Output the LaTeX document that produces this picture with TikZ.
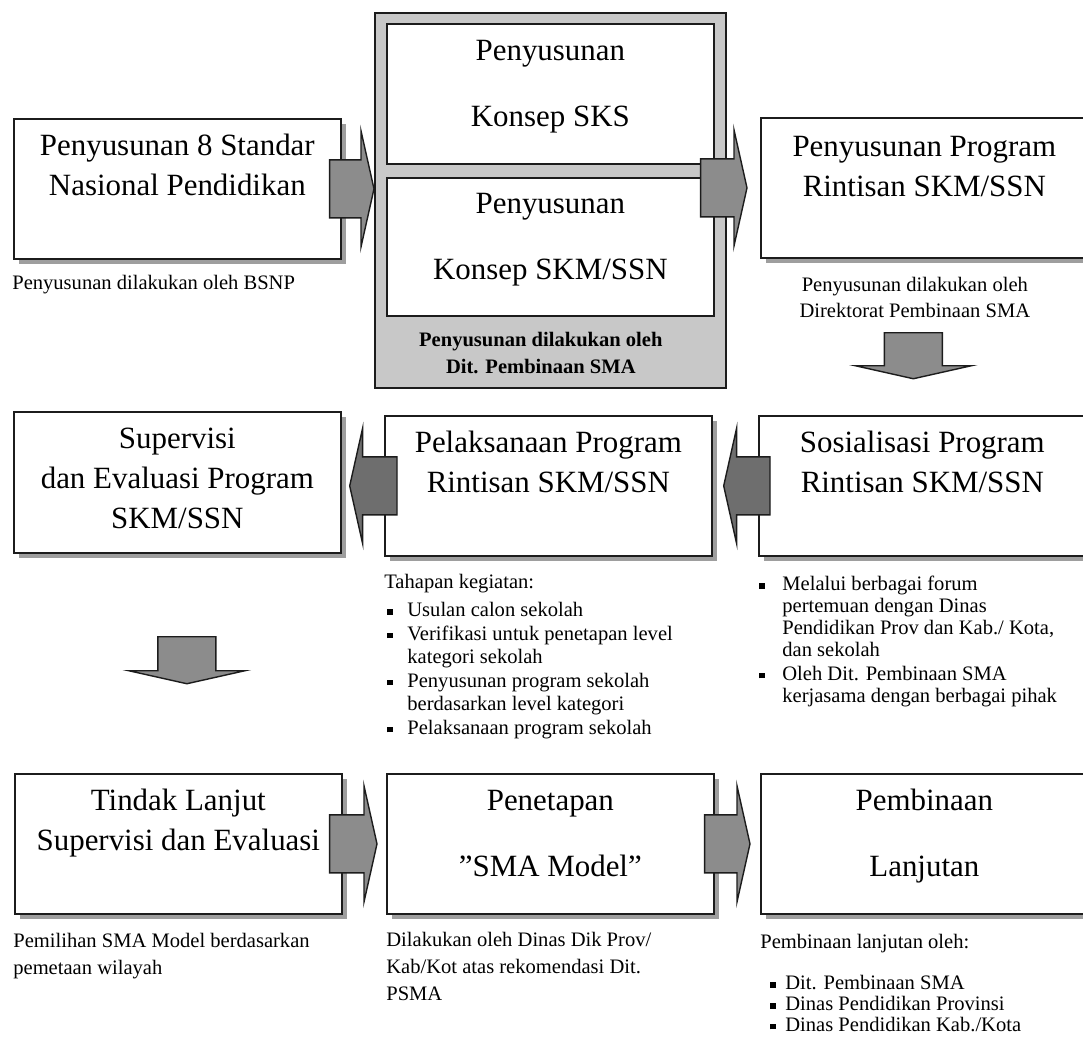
\documentclass[tikz,border=0pt]{standalone}
\usepackage{fontspec}
\setmainfont{Liberation Serif}
\usetikzlibrary{shadows, calc, positioning}
\definecolor{grpfill}{HTML}{C8C8C8}
\definecolor{shd}{HTML}{9E9E9E}
\definecolor{arrlite}{HTML}{8C8C8C}
\definecolor{arrdark}{HTML}{6E6E6E}
\definecolor{edge}{HTML}{1C1C1C}
\tikzset{
  % riquadro di una fase
  box/.style={draw=edge, line width=1pt, fill=white, anchor=north west,
    minimum width=6.54cm, minimum height=2.8cm, inner sep=0pt},
  boxsh/.style={box, drop shadow={shadow xshift=0.1cm, shadow yshift=-0.1cm,
    fill=shd, opacity=1}},
  % gruppo grigio dei concetti
  grp/.style={draw=edge, line width=1pt, fill=grpfill, anchor=north west,
    minimum width=7.02cm, minimum height=7.5cm, inner sep=0pt},
  % titolo dentro il riquadro
  ttl/.style={font=\fontsize{17.6pt}{23pt}\selectfont, inner sep=0pt, anchor=base},
  % note sotto i riquadri
  note/.style={font=\fontsize{11.7pt}{13.8pt}\selectfont, inner sep=0pt, anchor=base west},
  % freccia a blocco
  barrow/.style={draw=edge, line width=0.8pt, fill=arrlite},
}
\newcommand{\blockarrow}[3][arrlite]{%
  \coordinate (ba) at (#2);
  \coordinate (bt) at (#3);
  \coordinate (bh) at ($(bt)!0.26cm!(ba)$);
  \draw[barrow, fill=#1] ($(ba)!0.58cm!90:(bt)$) -- ($(bh)!0.58cm!90:(bt)$)
    -- ($(bh)!1.16cm!90:(bt)$) -- (bt) -- ($(bh)!1.16cm!-90:(bt)$)
    -- ($(bh)!0.58cm!-90:(bt)$) -- ($(ba)!0.58cm!-90:(bt)$) -- cycle;
}
\newcommand{\lns}[1]{\begin{tabular}[t]{@{}c@{}}#1\end{tabular}}
\newcommand{\lnsl}[1]{\begin{tabular}[t]{@{}l@{}}#1\end{tabular}}
\newcommand{\bul}{\rule[0.1em]{0.27em}{0.27em}}

\begin{document}
\begin{tikzpicture}[x=0.02cm, y=-0.02cm]
  \useasboundingbox (0,0) rectangle (1083,1046);
  \clip (0,0) rectangle (1083,1046);
  \node[grp] (grp) at (374,12) {};
  \node[box] (sks) at (386,23) {};
  \node[box, minimum height=2.76cm] (skm) at (386,177) {};
  \node[boxsh] (std) at (13,118) {};
  \node[boxsh] (prog) at (760,117) {};
  \node[boxsh, minimum height=2.82cm] (sup) at (13,411) {};
  \node[boxsh] (lak) at (384,415) {};
  \node[boxsh] (sos) at (758,415) {};
  \node[boxsh] (tl) at (14,773) {};
  \node[boxsh] (pen) at (386,773) {};
  \node[boxsh] (bin) at (760,773) {};

  \node[ttl] (tstd) at ($(std.north)+(0,37)$) {\lns{Penyusunan 8 Standar\\Nasional Pendidikan}};
  \node[ttl] (tsks) at ($(sks.north)+(0,37)$) {\lns{Penyusunan\\[15pt]Konsep SKS}};
  \node[ttl] (tskm) at ($(skm.north)+(0,36)$) {\lns{Penyusunan\\[15pt]Konsep SKM/SSN}};
  \node[ttl] (tprog) at ($(prog.north)+(0,39)$) {\lns{Penyusunan Program\\Rintisan SKM/SSN}};
  \node[ttl] (tsup) at ($(sup.north)+(0,37)$) {\lns{Supervisi\\dan Evaluasi Program\\SKM/SSN}};
  \node[ttl] (tlak) at ($(lak.north)+(0,37)$) {\lns{Pelaksanaan Program\\Rintisan SKM/SSN}};
  \node[ttl] (tsos) at ($(sos.north)+(0,37)$) {\lns{Sosialisasi Program\\Rintisan SKM/SSN}};
  \node[ttl] (ttl) at ($(tl.north)+(0,37)$) {\lns{Tindak Lanjut\\Supervisi dan Evaluasi}};
  \node[ttl] (tpen) at ($(pen.north)+(0,37)$) {\lns{Penetapan\\[15pt]”SMA Model”}};
  \node[ttl] (tbin) at ($(bin.north)+(0,37)$) {\lns{Pembinaan\\[15pt]Lanjutan}};

  \blockarrow{$(std.east)+(-12,0)$}{std.east -| grp.west}
  \blockarrow{$(prog.west -| grp.east)+(-26,0)$}{$(prog.west)+(-13,0)$}
  \blockarrow{$(prog.south)+(-11,74)$}{$(prog.south)+(-11,120)$}
  \blockarrow[arrdark]{$(sos.west)+(12,0)$}{$(sos.west -| lak.east)+(11,0)$}
  \blockarrow[arrdark]{$(lak.west)+(13,0)$}{$(lak.west -| sup.east)+(8,0)$}
  \blockarrow{$(sup.south)+(9.5,83)$}{$(sup.south)+(9.5,130)$}
  \blockarrow{$(tl.east)+(-13,0)$}{$(tl.east -| pen.west)+(-9,0)$}
  \blockarrow{$(pen.east)+(-10,0)$}{$(pen.east -| bin.west)+(-10,0)$}

  \node[note] (nstd) at ($(std.south west)+(-1,30)$) {Penyusunan dilakukan oleh BSNP};
  \node[note, anchor=base] (ngrp) at ($(skm.south)+(-9.5,30)$)
    [font=\fontsize{11.7pt}{13.8pt}\selectfont\bfseries] {\lns{Penyusunan dilakukan oleh\\[1.5pt]Dit. Pembinaan SMA}};
  \node[note, anchor=base] (nprog) at ($(prog.south)+(-9.5,33)$) {\lns{Penyusunan dilakukan oleh\\[0.6pt]Direktorat Pembinaan SMA}};
  \node[note, font=\fontsize{11.7pt}{13.4pt}\selectfont] (nlak) at ($(lak.south west)+(0,32)$) {%
    \begin{tabular}[t]{@{}l@{\hspace{0.29cm}}l@{}}
      \multicolumn{2}{@{}l@{}}{Tahapan kegiatan:}\\[2.5pt]
      \hspace{0.06cm}\bul & Usulan calon sekolah\\
      \hspace{0.06cm}\bul & Verifikasi untuk penetapan level\\
      & kategori sekolah\\
      \hspace{0.06cm}\bul & Penyusunan program sekolah\\
      & berdasarkan level kategori\\
      \hspace{0.06cm}\bul & Pelaksanaan program sekolah
    \end{tabular}};
  \node[note, font=\fontsize{11.7pt}{12.4pt}\selectfont] (nsos) at ($(sos.south west)+(1,34)$) {%
    \begin{tabular}[t]{@{}l@{\hspace{0.35cm}}l@{}}
      \bul & Melalui berbagai forum\\
      & pertemuan dengan Dinas\\
      & Pendidikan Prov dan Kab./ Kota,\\
      & dan sekolah\\[1.5pt]
      \bul & Oleh Dit. Pembinaan SMA\\
      & kerjasama dengan berbagai pihak
    \end{tabular}};
  \node[note] (ntl) at ($(tl.south west)+(-1,33)$) {\lnsl{Pemilihan SMA Model berdasarkan\\[1.5pt]pemetaan wilayah}};
  \node[note] (npen) at ($(pen.south west)+(0,32)$) {\lnsl{Dilakukan oleh Dinas Dik Prov/\\[1.5pt]Kab/Kot atas rekomendasi Dit.\\[1.5pt]PSMA}};
  \node[note, font=\fontsize{11.7pt}{11.9pt}\selectfont] (nbin) at ($(bin.south west)+(0,34)$) {%
    \begin{tabular}[t]{@{}l@{\hspace{0.19cm}}l@{}}
      \multicolumn{2}{@{}l@{}}{Pembinaan lanjutan oleh:}\\[11.4pt]
      \hspace{0.2cm}\bul & Dit. Pembinaan SMA\\
      \hspace{0.2cm}\bul & Dinas Pendidikan Provinsi\\
      \hspace{0.2cm}\bul & Dinas Pendidikan Kab./Kota
    \end{tabular}};
\end{tikzpicture}
\end{document}
